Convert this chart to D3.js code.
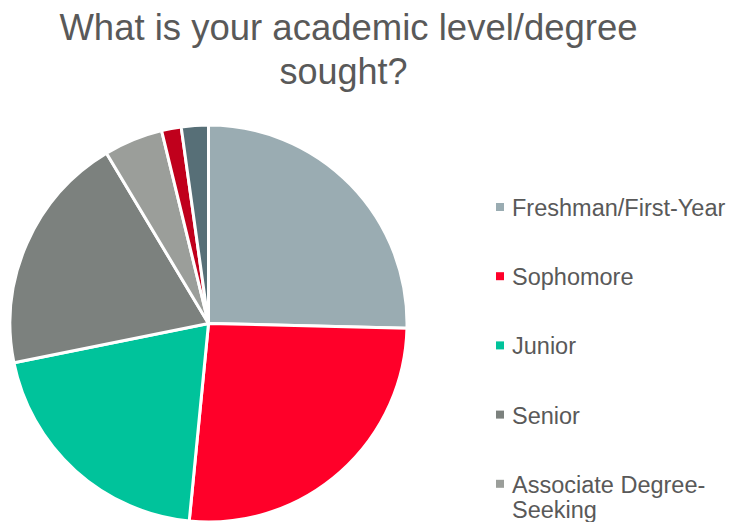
<!DOCTYPE html>
<html>
<head>
<meta charset="utf-8">
<script src="https://cdn.jsdelivr.net/npm/d3@7"></script>
<style>
  body { margin: 0; background: #fff; }
  svg text { font-family: Arial, "Liberation Sans", Helvetica, sans-serif; fill: #595959; }
</style>
</head>
<body>
<div id="chart"></div>
<script>
// data (share of responses, %)
const categories = ["Freshman/First-Year", "Sophomore", "Junior", "Senior", "Associate Degree-Seeking", "Graduate", "Other"];
const shares = [25.4, 26.2, 20.3, 19.6, 4.8, 1.6, 2.2];
const colors = ["#9aacb2", "#ff0029", "#00c39b", "#7c817e", "#9b9e9a", "#c0001c", "#576f77"];
const titleLines = ["What is your academic level/degree", "sought?"];

const width = 733, height = 522;
const cx = 208.5, cy = 323.5, radius = 198.5;

const svg = d3.select("#chart")
  .append("svg")
  .attr("width", width)
  .attr("height", height);

// title
svg.append("text")
  .attr("x", 348.5)
  .attr("y", 40)
  .attr("text-anchor", "middle")
  .style("font-size", "36.5px")
  .text(titleLines[0]);

svg.append("text")
  .attr("x", 343.5)
  .attr("y", 83.5)
  .attr("text-anchor", "middle")
  .style("font-size", "36px")
  .text(titleLines[1]);

// pie
const data = categories.map((c, i) => ({ name: c, value: shares[i], color: colors[i] }));

const pie = d3.pie()
  .sort(null)
  .value(d => d.value);

const arc = d3.arc()
  .innerRadius(0)
  .outerRadius(radius);

svg.append("g")
  .attr("transform", `translate(${cx},${cy})`)
  .selectAll("path")
  .data(pie(data))
  .enter()
  .append("path")
  .attr("d", arc)
  .attr("fill", d => d.data.color)
  .attr("stroke", "#fff")
  .attr("stroke-width", 3)
  .attr("stroke-linejoin", "round");

// legend (runs past the bottom edge, as in the original)
const legend = svg.append("g").attr("transform", "translate(496, 216)");
const rowStep = 69.2;

data.forEach((d, i) => {
  const row = legend.append("g").attr("transform", `translate(0, ${i * rowStep})`);
  row.append("rect")
    .attr("x", 0)
    .attr("y", -13)
    .attr("width", 8)
    .attr("height", 8)
    .attr("fill", d.color);
  const t = row.append("text")
    .attr("x", 16)
    .attr("y", 0)
    .style("font-size", "23.5px");
  if (d.name === "Associate Degree-Seeking") {
    t.append("tspan").attr("x", 16).attr("dy", 0).text("Associate Degree-");
    t.append("tspan").attr("x", 16).attr("dy", 25).text("Seeking");
  } else {
    t.text(d.name);
  }
});
</script>
</body>
</html>
